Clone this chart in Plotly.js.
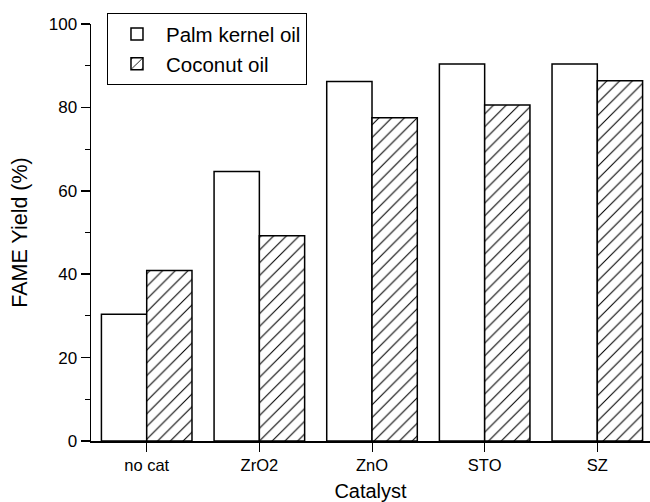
<!DOCTYPE html>
<html>
<head>
<meta charset="utf-8">
<script src="https://cdn.plot.ly/plotly-3.0.1.min.js"></script>
<style>html,body{margin:0;padding:0;background:#fff;}#chart{width:650px;height:502px;}</style>
</head>
<body>
<div id="chart"></div>
<script>
var categories = ["no cat", "ZrO2", "ZnO", "STO", "SZ"];
var palmKernelOil = [30.4, 64.6, 86.2, 90.4, 90.4];
var coconutOil = [40.9, 49.2, 77.5, 80.6, 86.4];
var seriesNames = ["Palm kernel oil", "Coconut oil"];
var yTicks = [0, 20, 40, 60, 80, 100];

var font = "Liberation Sans, Arial, Helvetica, sans-serif";

var traces = [
  {
    type: "bar", name: seriesNames[0], x: categories, y: palmKernelOil,
    marker: {color: "#ffffff", line: {color: "#000000", width: 1.5}}
  },
  {
    type: "bar", name: seriesNames[1], x: categories, y: coconutOil,
    marker: {color: "#ffffff", line: {color: "#000000", width: 1.5},
      pattern: {shape: "/", fgcolor: "#000000", bgcolor: "#ffffff", size: 9, solidity: 0.12}}
  }
];

var layout = {
  width: 650, height: 502,
  margin: {l: 91, r: 0, t: 24, b: 61},
  paper_bgcolor: "#ffffff", plot_bgcolor: "#ffffff",
  barmode: "group", bargap: 0.196, bargroupgap: 0,
  font: {family: font, color: "#000000"},
  showlegend: true,
  legend: {
    x: 0.0286, y: 1.026, xanchor: "left", yanchor: "top",
    bgcolor: "#ffffff", bordercolor: "#000000", borderwidth: 1,
    font: {family: font, size: 20.5, color: "#000000"},
    itemwidth: 48,
    tracegroupgap: 0
  },
  xaxis: {
    type: "category", range: [-0.4945, 4.4677],
    showline: true, linecolor: "#000000", linewidth: 1.5,
    ticks: "outside", ticklen: 9, tickwidth: 1, tickcolor: "#000000",
    showgrid: false, zeroline: false,
    tickfont: {family: font, size: 16.5, color: "#000000"},
    title: {text: "Catalyst", font: {family: font, size: 20, color: "#000000"}, standoff: 11}
  },
  yaxis: {
    range: [0, 100], tickvals: yTicks, ticktext: yTicks.map(String),
    showline: true, linecolor: "#000000", linewidth: 1.5,
    ticks: "outside", ticklen: 9, tickwidth: 1.5, tickcolor: "#000000",
    minor: {dtick: 10, tick0: 0, ticks: "outside", ticklen: 5, tickwidth: 1, tickcolor: "#000000", showgrid: false},
    showgrid: false, zeroline: false,
    tickfont: {family: font, size: 17, color: "#000000"},
    title: {text: "FAME Yield (%)", font: {family: font, size: 21.5, color: "#000000"}, standoff: 15}
  }
};

Plotly.newPlot("chart", traces, layout, {displayModeBar: false, staticPlot: true});
</script>
</body>
</html>
